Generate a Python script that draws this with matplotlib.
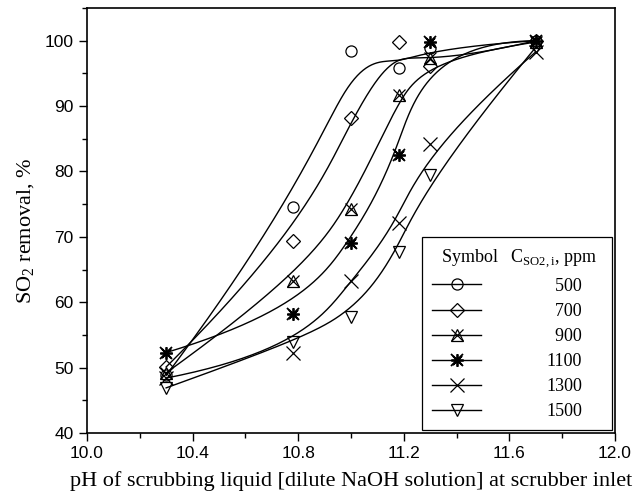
import matplotlib
matplotlib.use('Agg')
import matplotlib.pyplot as plt
import numpy as np
from matplotlib.legend_handler import HandlerTuple
from matplotlib.lines import Line2D
from matplotlib.ticker import MultipleLocator

# pH at scrubber inlet and SO2 removal (%) for each inlet concentration
ph = [10.3, 10.78, 11.0, 11.18, 11.3, 11.7]
conc_labels = ['500', '700', '900', '1100', '1300', '1500']
rem_500 = [48.8, 74.6, 98.4, 95.8, 98.9, 100.0]
rem_700 = [50.1, 69.3, 88.2, 99.8, 96.2, 100.0]
rem_900 = [49.2, 63.2, 74.3, 91.7, 97.3, 99.8]
rem_1100 = [52.3, 58.2, 69.1, 82.5, 99.8, 100.0]
rem_1300 = [48.4, 52.2, 63.2, 72.1, 84.2, 98.3]
rem_1500 = [46.9, 53.9, 57.8, 67.7, 79.4, 99.0]

serif = ['Liberation Serif', 'DejaVu Serif']
sans = ['Liberation Sans', 'DejaVu Sans']


def bspline(xs, ys, k=3, n=300):
    """Clamped cubic B-spline using the points as control polygon."""
    P = np.column_stack([xs, ys])
    m = len(P)
    knots = np.concatenate([np.zeros(k), np.linspace(0, 1, m - k + 1), np.ones(k)])
    t = np.linspace(0, 1, n)
    B = np.zeros((n, len(knots) - 1))
    for i in range(len(knots) - 1):
        B[:, i] = (knots[i] <= t) & (t < knots[i + 1])
    B[t == 1.0, m - 1] = 1.0
    for d in range(1, k + 1):
        Bn = np.zeros((n, len(knots) - 1 - d))
        for i in range(len(knots) - 1 - d):
            a = knots[i + d] - knots[i]
            b = knots[i + d + 1] - knots[i + 1]
            left = (t - knots[i]) / a * B[:, i] if a > 0 else 0
            right = (knots[i + d + 1] - t) / b * B[:, i + 1] if b > 0 else 0
            Bn[:, i] = left + right
        B = Bn
    C = B @ P
    return C[:, 0], C[:, 1]


fig = plt.figure(figsize=(6.44, 5.0), dpi=100)
ax = fig.add_axes([0.135, 0.134, 0.820, 0.850])

mk = dict(color='black', mfc='none', linestyle='none', mew=0.9)
series = [
    (rem_500, [dict(marker='o', ms=8)]),
    (rem_700, [dict(marker='D', ms=7)]),
    (rem_900, [dict(marker='^', ms=9), dict(marker='x', ms=9)]),
    (rem_1100, [dict(marker=(8, 2, 0), ms=9, mew=1.3), dict(marker='x', ms=8, mew=1.3)]),
    (rem_1300, [dict(marker='x', ms=10)]),
    (rem_1500, [dict(marker='v', ms=9)]),
]

handles = []
for vals, styles in series:
    cx, cy = bspline(ph, vals)
    ax.plot(cx, cy, color='black', lw=1.0)
    parts = []
    for j, st in enumerate(styles):
        opts = dict(mk)
        opts.update(st)
        ax.plot(ph, vals, **opts)
        if j == 0:
            opts = dict(opts, linestyle='-', lw=1.0)
        parts.append(Line2D([], [], **opts))
    handles.append(tuple(parts))

ax.set_xlim(10.0, 12.0)
ax.set_ylim(40, 105)
ax.xaxis.set_minor_locator(MultipleLocator(0.2))
ax.yaxis.set_minor_locator(MultipleLocator(5))
ax.set_yticks(np.arange(40, 101, 10))
ax.set_xticks(np.arange(10.0, 12.01, 0.4))
ax.set_xticklabels([f'{v:.1f}' for v in np.arange(10.0, 12.01, 0.4)])
ax.tick_params(which='major', direction='out', length=6, width=1.0, labelsize=12.5)
ax.tick_params(which='minor', direction='out', length=3.5, width=1.0)
for lab in ax.get_xticklabels() + ax.get_yticklabels():
    lab.set_family(sans)
for s in ax.spines.values():
    s.set_linewidth(1.2)

ax.set_xlabel('pH of scrubbing liquid [dilute NaOH solution] at scrubber inlet',
              family=serif, fontsize=16, labelpad=7)
ax.set_ylabel(r'SO$_\mathregular{2}$ removal, %', family=serif, fontsize=16, labelpad=7)
ax.yaxis.set_label_coords(-0.095, 0.475)

# pad three-digit labels with a figure space so the numbers line up on the right
labels = [('\u2007' + c) if len(c) == 3 else c for c in conc_labels]
leg = ax.legend(handles, labels, handler_map={tuple: HandlerTuple(ndivide=1)},
                numpoints=1, loc='lower right', borderaxespad=0.15, frameon=True,
                fancybox=False, edgecolor='black', framealpha=1, handlelength=2.7,
                handletextpad=3.6, labelspacing=0.45, borderpad=0.55, alignment='left',
                title=r'  Symbol   C$_\mathregular{SO2,i}$, ppm  ',
                prop={'family': serif, 'size': 13},
                title_fontproperties={'family': serif, 'size': 13})
leg.get_frame().set_linewidth(0.9)

fig.savefig('out.png', dpi=100)
